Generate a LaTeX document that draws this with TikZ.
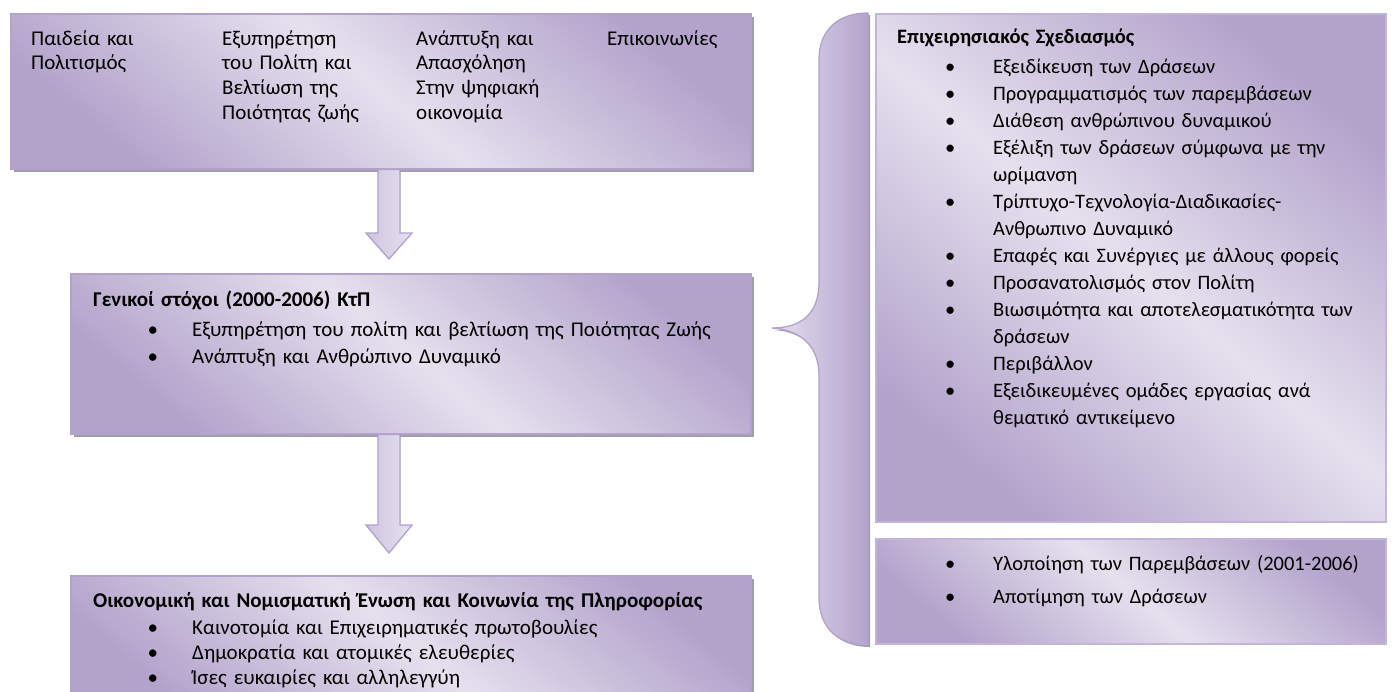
\documentclass[tikz,border=0pt]{standalone}
\usepackage{fontspec}
\setmainfont{Carlito}
\usetikzlibrary{calc,shadows}
\definecolor{lavL}{HTML}{E5E0EE}
\definecolor{lavD}{HTML}{B3A3CB}
\definecolor{lavM}{HTML}{CFC5DF}
\definecolor{lavB}{HTML}{B2A2CC}
\definecolor{lavBR}{HTML}{C2B6D8}
\definecolor{shad}{HTML}{A29EA9}
\newlength\bind \newlength\bgap
\newcommand{\bitem}[1]{\par{\leftskip=\bind\noindent\llap{\textbullet\hspace{\bgap}}#1\par}}
\tikzset{
  panel/.style={draw=lavB, line width=1.5pt, top color=lavD, bottom color=lavD, middle color=lavL,
    shading angle=-40, inner sep=0, anchor=north west},
  panelshadow/.style={drop shadow={shadow xshift=3pt, shadow yshift=-3pt, fill=shad, opacity=1}},
  panelR/.style={draw=lavBR, line width=1.5pt, top color=lavD, bottom color=lavD, middle color=lavL,
    shading angle=-40, inner sep=0, anchor=north west},
  barrow/.style={draw=lavB, line width=1.3pt, left color=lavM, right color=lavL},
  txt/.style={anchor=base west, inner sep=0, text width=650pt, align=left},
}
\begin{document}
\begin{tikzpicture}[x=1pt,y=-1pt]
\useasboundingbox[fill=white] (0,0) rectangle (1392,691);
% left boxes
\node[panel, panelshadow, minimum width=740pt, minimum height=155pt] (areas) at (10,13) {};
\node[panel, panelshadow, minimum width=680pt, minimum height=160pt] (goals) at (70,273) {};
\node[panel, panelshadow, minimum width=680pt, minimum height=140pt] (econ) at (70,575) {};
% right boxes
\node[panelR, minimum width=510pt, minimum height=508pt] (plan) at (875,13) {};
\node[panelR, minimum width=510pt, minimum height=105pt] (impl) at (875,538) {};
% brace
\fill[shad] (870,15) .. controls (840,15) and (821,32) .. (821,62) -- (821,284)
  .. controls (821,317) and (802,330) .. (774,330)
  .. controls (802,332) and (821,347) .. (821,378) -- (821,599)
  .. controls (821,632) and (842,647) .. (870,647) -- cycle;
\draw[draw=lavB, line width=1.3pt, left color=lavL, right color=lavD]
  (868,13) .. controls (838,13) and (819,30) .. (819,60) -- (819,282)
  .. controls (819,315) and (800,328) .. (772,328)
  .. controls (800,330) and (819,345) .. (819,376) -- (819,597)
  .. controls (819,630) and (840,645) .. (868,645) -- cycle;
% block arrows
\coordinate (ax) at (389,0);
\filldraw[barrow] ($(areas.south -| ax)+(-11,0)$) -- ($(goals.north -| ax)+(-11,-40)$)
  -- ($(goals.north -| ax)+(-23,-40)$) -- ($(goals.north -| ax)+(0,-14)$)
  -- ($(goals.north -| ax)+(23,-40)$) -- ($(goals.north -| ax)+(11,-40)$)
  -- ($(areas.south -| ax)+(11,0)$) -- cycle;
\filldraw[barrow] ($(goals.south -| ax)+(-11,0)$) -- ($(econ.north -| ax)+(-11,-50)$)
  -- ($(econ.north -| ax)+(-23,-50)$) -- ($(econ.north -| ax)+(0,-22)$)
  -- ($(econ.north -| ax)+(23,-50)$) -- ($(econ.north -| ax)+(11,-50)$)
  -- ($(goals.south -| ax)+(11,0)$) -- cycle;
% top box texts
\begin{scope}[every node/.style={txt, text width=185pt, font=\fontsize{21}{24.7}\selectfont}]
\node (c1) at (31,45) {Παιδεία και\\Πολιτισμός};
\node (c2) at (222,45) {Εξυπηρέτηση\\του Πολίτη και\\Βελτίωση της\\Ποιότητας ζωής};
\node (c3) at (416,45) {Ανάπτυξη και\\Απασχόληση\\Στην ψηφιακή\\οικονομία};
\node (c4) at (607,45) {Επικοινωνίες};
\end{scope}
% middle box text
\node[txt, font=\fontsize{21}{27}\selectfont] (goalstxt) at (93,306)
  {\setlength\bind{99pt}\setlength\bgap{34pt}\textbf{Γενικοί στόχοι (2000-2006) ΚτΠ}\vspace{3pt}
   \bitem{Εξυπηρέτηση του πολίτη και βελτίωση της Ποιότητας Ζωής}
   \bitem{Ανάπτυξη και Ανθρώπινο Δυναμικό}};
% bottom box text
\node[txt, font=\fontsize{21}{25}\selectfont] (econtxt) at (93,607)
  {\setlength\bind{99pt}\setlength\bgap{34pt}\textbf{Οικονομική και Νομισματική Ένωση και Κοινωνία της Πληροφορίας}\vspace{2pt}
   \bitem{Καινοτομία και Επιχειρηματικές πρωτοβουλίες}
   \bitem{Δημοκρατία και ατομικές ελευθερίες}
   \bitem{Ίσες ευκαιρίες και αλληλεγγύη}};
% right box 1 text
\node[txt, text width=485pt, font=\fontsize{20.5}{27}\selectfont] (plantxt) at (897,43)
  {\setlength\bind{96pt}\setlength\bgap{38pt}\textbf{Επιχειρησιακός Σχεδιασμός}\vspace{3pt}
   \bitem{Εξειδίκευση των Δράσεων}
   \bitem{Προγραμματισμός των παρεμβάσεων}
   \bitem{Διάθεση ανθρώπινου δυναμικού}
   \bitem{Εξέλιξη των δράσεων σύμφωνα με την\\ωρίμανση}
   \bitem{Τρίπτυχο-Τεχνολογία-Διαδικασίες-\\Ανθρωπινο Δυναμικό}
   \bitem{Επαφές και Συνέργιες με άλλους φορείς}
   \bitem{Προσανατολισμός στον Πολίτη}
   \bitem{Βιωσιμότητα και αποτελεσματικότητα των\\δράσεων}
   \bitem{Περιβάλλον}
   \bitem{Εξειδικευμένες ομάδες εργασίας ανά\\θεματικό αντικείμενο}};
% right box 2 text
\node[txt, text width=485pt, font=\fontsize{20.5}{33}\selectfont] (impltxt) at (897,537)
  {\setlength\bind{96pt}\setlength\bgap{38pt}%
   \bitem{Υλοποίηση των Παρεμβάσεων (2001-2006)}
   \bitem{Αποτίμηση των Δράσεων}};
\end{tikzpicture}
\end{document}
